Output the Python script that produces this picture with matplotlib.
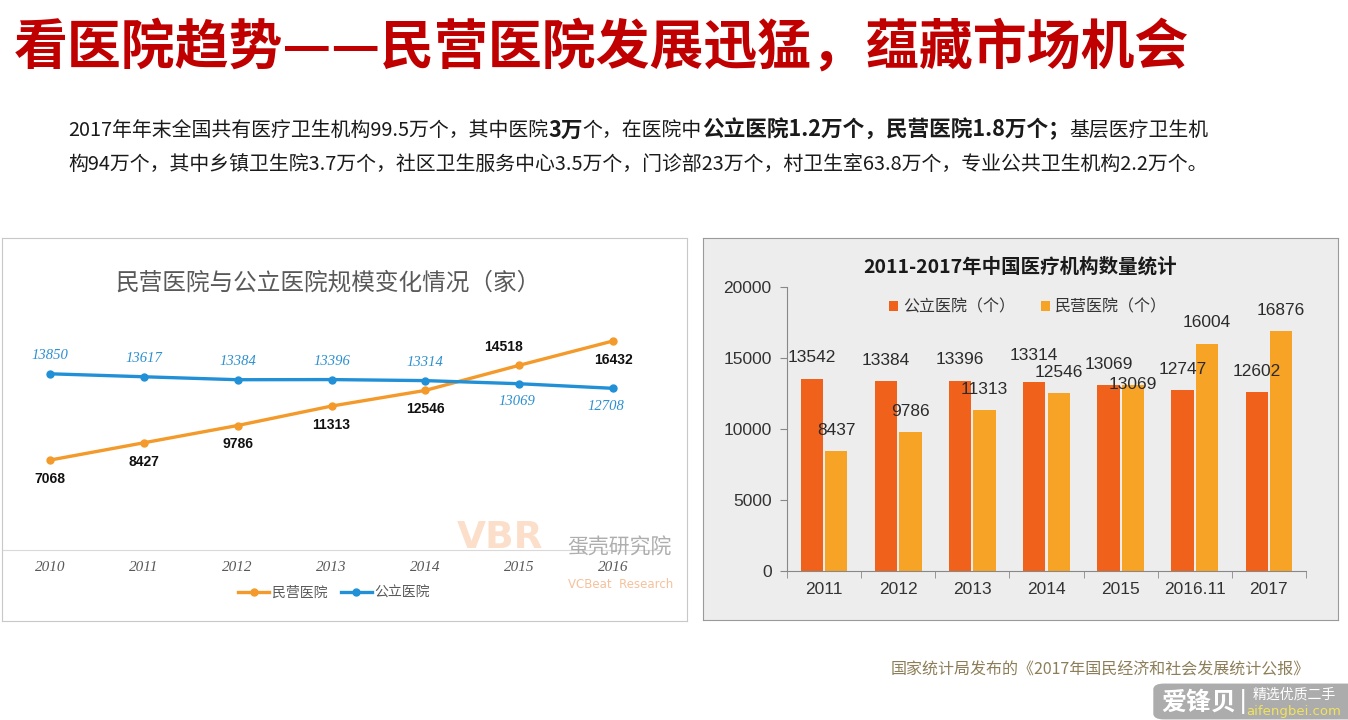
"""
民营医院 vs 公立医院 幻灯片重现
"""

import matplotlib.pyplot as plt
from matplotlib.patches import FancyBboxPatch

plt.rcParams['font.family'] = ['Noto Sans CJK SC', 'DejaVu Sans']

# ============================================================================
# DATOS
# ============================================================================

years_line = ['2010', '2011', '2012', '2013', '2014', '2015', '2016']
private_line = [7068, 8427, 9786, 11313, 12546, 14518, 16432]
public_line = [13850, 13617, 13384, 13396, 13314, 13069, 12708]

years_bar = ['2011', '2012', '2013', '2014', '2015', '2016.11', '2017']
public_bar = [13542, 13384, 13396, 13314, 13069, 12747, 12602]
private_bar = [8437, 9786, 11313, 12546, 13069, 16004, 16876]

title = '看医院趋势——民营医院发展迅猛，蕴藏市场机会'
line1_runs = [('2017年年末全国共有医疗卫生机构99.5万个，其中医院', False),
              ('3万', True), ('个，在医院中', False),
              ('公立医院1.2万个，民营医院1.8万个；', True),
              ('基层医疗卫生机', False)]
line2_runs = [('构94万个，其中乡镇卫生院3.7万个，社区卫生服务中心3.5万个，门诊部23万个，'
               '村卫生室63.8万个，专业公共卫生机构2.2万个。', False)]
source = '国家统计局发布的《2017年国民经济和社会发展统计公报》'

# ============================================================================
# LAYOUT
# ============================================================================

W, H = 1348, 720
ORANGE = '#F39A2B'
BLUE = '#2190D6'
PUB_BAR = '#F0621B'
PRI_BAR = '#F7A326'

fig = plt.figure(figsize=(W / 100, H / 100), dpi=100)


def box(x0, y0, x1, y1):
    return [x0 / W, 1 - y1 / H, (x1 - x0) / W, (y1 - y0) / H]


def ftext(x, y, s, **kw):
    return fig.text(x / W, 1 - y / H, s, **kw)


# --- encabezado ---
ftext(14, 48, title, fontsize=38.8, fontweight='bold', color='#C00000',
      va='center', ha='left')

renderer = fig.canvas.get_renderer()


def draw_runs(runs, x, y, size, bold_size):
    for txt, bold in runs:
        t = ftext(x, y, txt, fontsize=bold_size if bold else size, color='#1a1a1a',
                  fontweight='bold' if bold else 'normal', va='center', ha='left')
        x += t.get_window_extent(renderer=renderer).width


draw_runs(line1_runs, 68, 130, 14.3, 15.6)
draw_runs(line2_runs, 68, 165, 14.3, 15.6)

# ============================================================================
# GRAFICO IZQUIERDO: lineas
# ============================================================================

panel_l = fig.add_axes(box(2, 238, 687, 621))
panel_l.set_xticks([])
panel_l.set_yticks([])
for s in panel_l.spines.values():
    s.set_color('#C8C8C8')
panel_l.set_zorder(0)

ftext(328, 283, '民营医院与公立医院规模变化情况（家）', fontsize=17,
      color='#595959', ha='center', va='center')

# marca de agua VBR (detras de la grafica)
ftext(500, 538, 'VBR', fontsize=27, fontweight='bold', color='#F7B98A', alpha=0.45,
      ha='center', va='center', family='DejaVu Sans')
ftext(619, 548, '蛋壳研究院', fontsize=15, color='#9A9A9A', alpha=0.8,
      ha='center', va='center')
ftext(621, 584, 'VCBeat  Research', fontsize=8.5, color='#F4B183', alpha=0.8,
      ha='center', va='center', family='DejaVu Sans')

ax1 = fig.add_axes(box(3, 321, 660, 550))
ax1.patch.set_alpha(0)
x = range(len(years_line))
ax1.plot(x, private_line, color=ORANGE, lw=2.4, marker='o', ms=5, label='民营医院')
ax1.plot(x, public_line, color=BLUE, lw=2.4, marker='o', ms=5, label='公立医院')
ax1.set_xlim(-0.5, 6.5)
ax1.set_ylim(0, 18000)
for k in ['top', 'left', 'right']:
    ax1.spines[k].set_visible(False)
ax1.spines['bottom'].set_color('#D9D9D9')
ax1.set_yticks([])
ax1.set_xticks(list(x))
ax1.set_xticklabels(years_line, family='Liberation Serif', style='italic',
                    fontsize=11, color='#595959')
ax1.tick_params(axis='x', length=0, pad=8)

blue_side = [1, 1, 1, 1, 1, -1, -1]
orange_side = [-1, -1, -1, -1, -1, 1, -1]
orange_dx = [0, 0, 0, 0, 0, -11, 0]
blue_dx = [0, 0, 0, 0, 0, -2, -5]
for i in x:
    ax1.annotate(str(public_line[i]), (i, public_line[i]),
                 xytext=(blue_dx[i], 13 * blue_side[i]), textcoords='offset points',
                 ha='center', va='center', family='Liberation Serif', style='italic',
                 fontsize=10.5, color='#2B8FD0')
    ax1.annotate(str(private_line[i]), (i, private_line[i]),
                 xytext=(orange_dx[i], 13.5 * orange_side[i]), textcoords='offset points',
                 ha='center', va='center', family='Liberation Sans', fontweight='bold',
                 fontsize=10, color='#111111')

ax1.legend(loc='center', bbox_to_anchor=(334 / W, 1 - 593 / H),
           bbox_transform=fig.transFigure, ncol=2, frameon=False, fontsize=10,
           labelcolor='#595959', handlelength=2.2, columnspacing=1.0,
           handletextpad=0.2)

# ============================================================================
# GRAFICO DERECHO: barras
# ============================================================================

panel_r = fig.add_axes(box(703, 238, 1338, 620))
panel_r.set_facecolor('#EDEDED')
panel_r.set_xticks([])
panel_r.set_yticks([])
for s in panel_r.spines.values():
    s.set_color('#9A9A9A')
panel_r.set_zorder(0)

ftext(1020, 267, '2011-2017年中国医疗机构数量统计', fontsize=14, fontweight='bold',
      color='#1a1a1a', ha='center', va='center')

ax2 = fig.add_axes(box(787, 287, 1306, 571))
ax2.patch.set_alpha(0)
xb = list(range(len(years_bar)))
w = 0.3
pos_pub = [i - 0.165 for i in xb]
pos_pri = [i + 0.165 for i in xb]
ax2.bar(pos_pub, public_bar, width=w, color=PUB_BAR, label='公立医院（个）')
ax2.bar(pos_pri, private_bar, width=w, color=PRI_BAR, label='民营医院（个）')
ax2.set_xlim(-0.5, 6.5)
ax2.set_ylim(0, 20000)
ax2.set_yticks([0, 5000, 10000, 15000, 20000])
ax2.set_xticks(xb)
ax2.set_xticklabels(years_bar)
ax2.set_xticks([i + 0.5 for i in range(-1, 7)], minor=True)
for lab in ax2.get_xticklabels() + ax2.get_yticklabels():
    lab.set_family('Liberation Sans')
    lab.set_fontsize(12.5)
    lab.set_color('#333333')
ax2.tick_params(axis='x', which='major', length=0, pad=8)
ax2.tick_params(axis='x', which='minor', length=5, color='#888888')
ax2.tick_params(axis='y', length=5, color='#888888', pad=6)
for k in ['top', 'right']:
    ax2.spines[k].set_visible(False)
for k in ['left', 'bottom']:
    ax2.spines[k].set_color('#888888')

pub_dy = [15, 15, 15, 19, 15, 15, 15]
pri_dy = [15, 15, 15, 15, 1, 15, 15]
for i in xb:
    ax2.annotate(str(public_bar[i]), (pos_pub[i], public_bar[i]), xytext=(0, pub_dy[i]),
                 textcoords='offset points', ha='center', va='center',
                 family='Liberation Sans', fontsize=12.5, color='#2b2b2b')
    ax2.annotate(str(private_bar[i]), (pos_pri[i], private_bar[i]), xytext=(0, pri_dy[i]),
                 textcoords='offset points', ha='center', va='center',
                 family='Liberation Sans', fontsize=12.5, color='#2b2b2b')

ax2.legend(loc='center', bbox_to_anchor=(1028 / W, 1 - 307 / H),
           bbox_transform=fig.transFigure, ncol=2, frameon=False, fontsize=11.5,
           labelcolor='#333333', handlelength=0.6, handleheight=0.6,
           handletextpad=0.3, columnspacing=1.6)

# ============================================================================
# PIE DE PAGINA
# ============================================================================

ftext(1310, 670, source, fontsize=11.5, color='#8C7E58', ha='right', va='center')

wm = FancyBboxPatch((1156 / W, 1 - 718 / H), 200 / W, 33 / H,
                    boxstyle='round,pad=0.002,rounding_size=0.008',
                    transform=fig.transFigure, facecolor='#A3A3A3', edgecolor='none',
                    alpha=0.9)
fig.patches.append(wm)
ftext(1199, 703, '爱锋贝', fontsize=18, fontweight='bold', color='white',
      ha='center', va='center')
ftext(1243, 702, '|', fontsize=18, color='white', ha='center', va='center',
      family='DejaVu Sans')
ftext(1294, 695, '精选优质二手', fontsize=10, color='white', ha='center', va='center')
ftext(1294, 711, 'aifengbei.com', fontsize=9.5, color='#F2E35A', ha='center',
      va='center', family='DejaVu Sans')

plt.savefig('out.png', dpi=100)
